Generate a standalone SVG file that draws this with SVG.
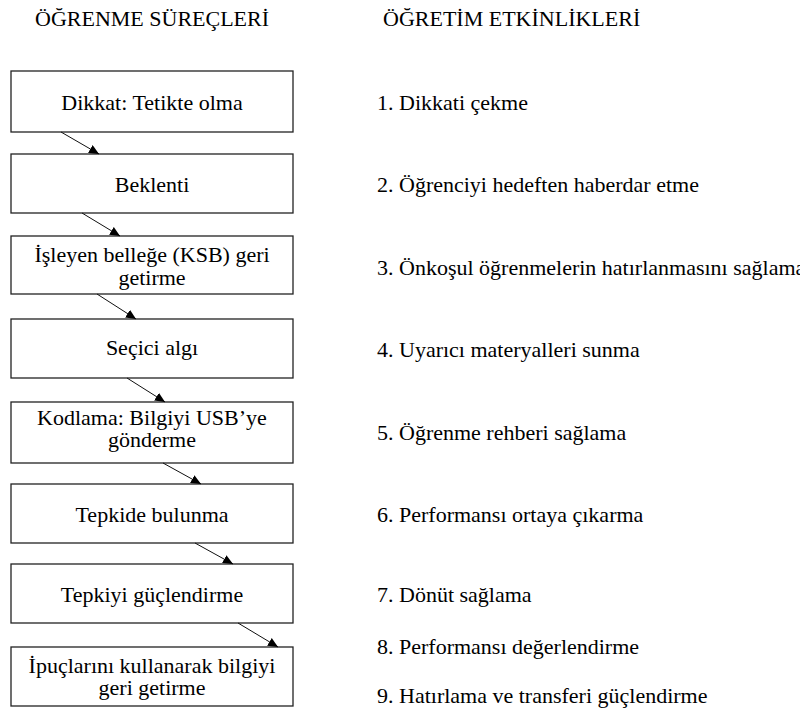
<svg xmlns="http://www.w3.org/2000/svg" width="800" height="711" viewBox="0 0 800 711">
  <defs>
    <marker id="head" markerUnits="userSpaceOnUse" markerWidth="10" markerHeight="9" refX="10" refY="4.5" orient="auto" viewBox="0 0 10 9">
      <path d="M0,0 L10,4.5 L0,9 z" fill="#000"/>
    </marker>
  </defs>
  <rect width="800" height="711" fill="#fff"/>

  <!-- column headings -->
  <text x="35" y="26" font-size="22" font-family="Liberation Serif">ÖĞRENME SÜREÇLERİ</text>
  <text x="383" y="26" font-size="22" font-family="Liberation Serif">ÖĞRETİM ETKİNLİKLERİ</text>

  <!-- learning process boxes -->
  <g id="n1"><rect x="11" y="71" width="282" height="61" fill="#fff" stroke="#222" stroke-width="1.3"/><text x="152" y="110" font-size="22" font-family="Liberation Serif" text-anchor="middle">Dikkat: Tetikte olma</text></g>
  <g id="n2"><rect x="11" y="154" width="282" height="59" fill="#fff" stroke="#222" stroke-width="1.3"/><text x="152" y="192" font-size="22" font-family="Liberation Serif" text-anchor="middle">Beklenti</text></g>
  <g id="n3"><rect x="11" y="236" width="282" height="58" fill="#fff" stroke="#222" stroke-width="1.3"/><text x="152" y="262" font-size="22" font-family="Liberation Serif" text-anchor="middle">İşleyen belleğe (KSB) geri</text><text x="152" y="285" font-size="22" font-family="Liberation Serif" text-anchor="middle">getirme</text></g>
  <g id="n4"><rect x="11" y="319" width="282" height="59" fill="#fff" stroke="#222" stroke-width="1.3"/><text x="152" y="355" font-size="22" font-family="Liberation Serif" text-anchor="middle">Seçici algı</text></g>
  <g id="n5"><rect x="11" y="402" width="282" height="61" fill="#fff" stroke="#222" stroke-width="1.3"/><text x="152" y="425" font-size="22" font-family="Liberation Serif" text-anchor="middle">Kodlama: Bilgiyi USB’ye</text><text x="152" y="447" font-size="22" font-family="Liberation Serif" text-anchor="middle">gönderme</text></g>
  <g id="n6"><rect x="11" y="484" width="282" height="59" fill="#fff" stroke="#222" stroke-width="1.3"/><text x="152" y="522" font-size="22" font-family="Liberation Serif" text-anchor="middle">Tepkide bulunma</text></g>
  <g id="n7"><rect x="11" y="564" width="282" height="59" fill="#fff" stroke="#222" stroke-width="1.3"/><text x="152" y="602" font-size="22" font-family="Liberation Serif" text-anchor="middle">Tepkiyi güçlendirme</text></g>
  <g id="n8"><rect x="11" y="647" width="282" height="59" fill="#fff" stroke="#222" stroke-width="1.3"/><text x="152" y="673" font-size="22" font-family="Liberation Serif" text-anchor="middle">İpuçlarını kullanarak bilgiyi</text><text x="152" y="695" font-size="22" font-family="Liberation Serif" text-anchor="middle">geri getirme</text></g>

  <!-- instructional events -->
  <g id="events">
    <text x="377" y="110" font-size="22" font-family="Liberation Serif">1. Dikkati çekme</text>
    <text x="377" y="192" font-size="22" font-family="Liberation Serif">2. Öğrenciyi hedeften haberdar etme</text>
    <text x="377" y="275" font-size="22" font-family="Liberation Serif">3. Önkoşul öğrenmelerin hatırlanmasını sağlama</text>
    <text x="377" y="357" font-size="22" font-family="Liberation Serif">4. Uyarıcı materyalleri sunma</text>
    <text x="377" y="440" font-size="22" font-family="Liberation Serif">5. Öğrenme rehberi sağlama</text>
    <text x="377" y="522" font-size="22" font-family="Liberation Serif">6. Performansı ortaya çıkarma</text>
    <text x="377" y="602" font-size="22" font-family="Liberation Serif">7. Dönüt sağlama</text>
    <text x="377" y="654" font-size="22" font-family="Liberation Serif">8. Performansı değerlendirme</text>
    <text x="377" y="703" font-size="22" font-family="Liberation Serif">9. Hatırlama ve transferi güçlendirme</text>
  </g>

  <!-- connectors -->
  <g id="connectors" stroke="#111" stroke-width="1" fill="none" marker-end="url(#head)">
    <line x1="61" y1="132" x2="99" y2="154"/>
    <line x1="82" y1="213" x2="120" y2="236"/>
    <line x1="97" y1="294" x2="136" y2="319"/>
    <line x1="127" y1="378" x2="165" y2="402"/>
    <line x1="163" y1="463" x2="201" y2="484"/>
    <line x1="195" y1="543" x2="233" y2="564"/>
    <line x1="238" y1="623" x2="278" y2="647"/>
  </g>
</svg>
